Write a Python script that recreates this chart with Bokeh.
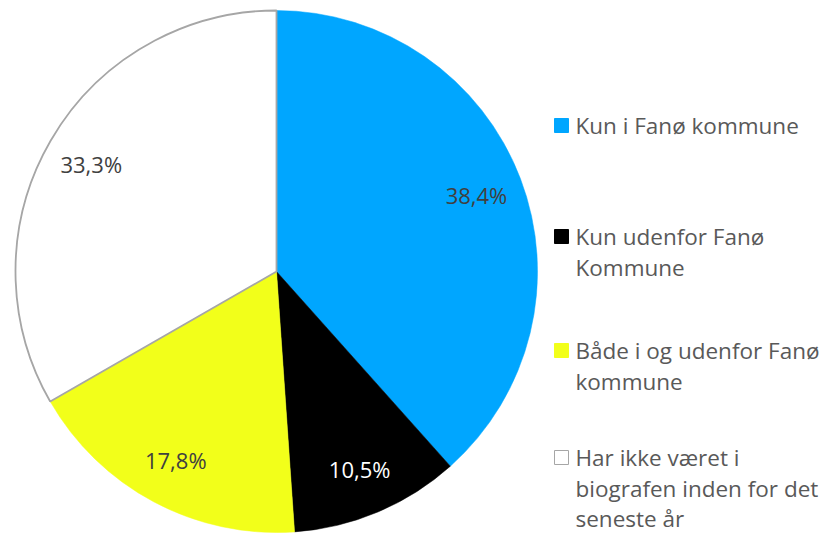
import math
from bokeh.plotting import figure
from bokeh.models import ColumnDataSource, Range1d
from bokeh.core.properties import value
from bokeh.embed import file_html
from bokeh.resources import INLINE

categories = ["Kun i Fanø kommune", "Kun udenfor Fanø\nKommune",
              "Både i og udenfor Fanø\nkommune",
              "Har ikke været i\nbiografen inden for det\nseneste år"]
shares = [38.4, 10.5, 17.8, 33.3]
pct_labels = ["38,4%", "10,5%", "17,8%", "33,3%"]
colors = ["#00A6FF", "#000000", "#F2FF1A", "#FFFFFF"]
line_colors = [None, None, None, "#A6A6A6"]
label_colors = ["#404040", "#FFFFFF", "#404040", "#404040"]

W, H = 830, 537
p = figure(width=W, height=H, output_backend="svg", toolbar_location=None,
           x_range=Range1d(0, W), y_range=Range1d(0, H), min_border=0)
p.axis.visible = False
p.grid.visible = False
p.outline_line_color = None
p.background_fill_color = "white"
p.border_fill_color = "white"

cx, cy, R = 276, 537 - 271, 261
total = sum(shares)
starts, ends, mids = [], [], []
acc = 0.0
for s in shares:
    a0 = math.pi / 2 - 2 * math.pi * acc / total
    a1 = math.pi / 2 - 2 * math.pi * (acc + s) / total
    starts.append(a0)
    ends.append(a1)
    mids.append((a0 + a1) / 2)
    acc += s

for i in range(len(shares)):
    src = ColumnDataSource(dict(x=[cx], y=[cy], s=[starts[i]], e=[ends[i]]))
    p.wedge(x="x", y="y", radius=R, start_angle="e", end_angle="s",
            source=src, fill_color=colors[i],
            line_color=line_colors[i] if line_colors[i] else colors[i],
            line_width=1.8 if line_colors[i] else 0.5)

lr = 0.82 * R
lab = ColumnDataSource(dict(
    x=[cx + lr * math.cos(m) for m in mids],
    y=[cy + lr * math.sin(m) for m in mids],
    t=pct_labels, c=label_colors))
p.text(x="x", y="y", text="t", text_color="c", source=lab,
       text_align="center", text_baseline="middle",
       text_font=value("Open Sans"), text_font_size="22px")

# legend
item_tops = [537 - 125, 537 - 236, 537 - 350, 537 - 457]   # first-line centre (data y)
line_step = 30.5
mx, tx = 561, 575
p.scatter(x=[mx] * 4, y=item_tops, marker="square", size=14,
          fill_color=colors, line_color=["#00A6FF", "#000000", "#F2FF1A", "#A6A6A6"],
          line_width=1)
xs, ys, ts = [], [], []
for top, lbl in zip(item_tops, categories):
    for k, ln in enumerate(lbl.split("\n")):
        xs.append(tx)
        ys.append(top - k * line_step)
        ts.append(ln)
p.text(x=xs, y=ys, text=ts, text_color="#595959",
       text_align="left", text_baseline="middle", text_line_height=1.0,
       text_font=value("Open Sans"), text_font_size="22.5px")

open("out.html", "w").write(file_html(p, INLINE))
